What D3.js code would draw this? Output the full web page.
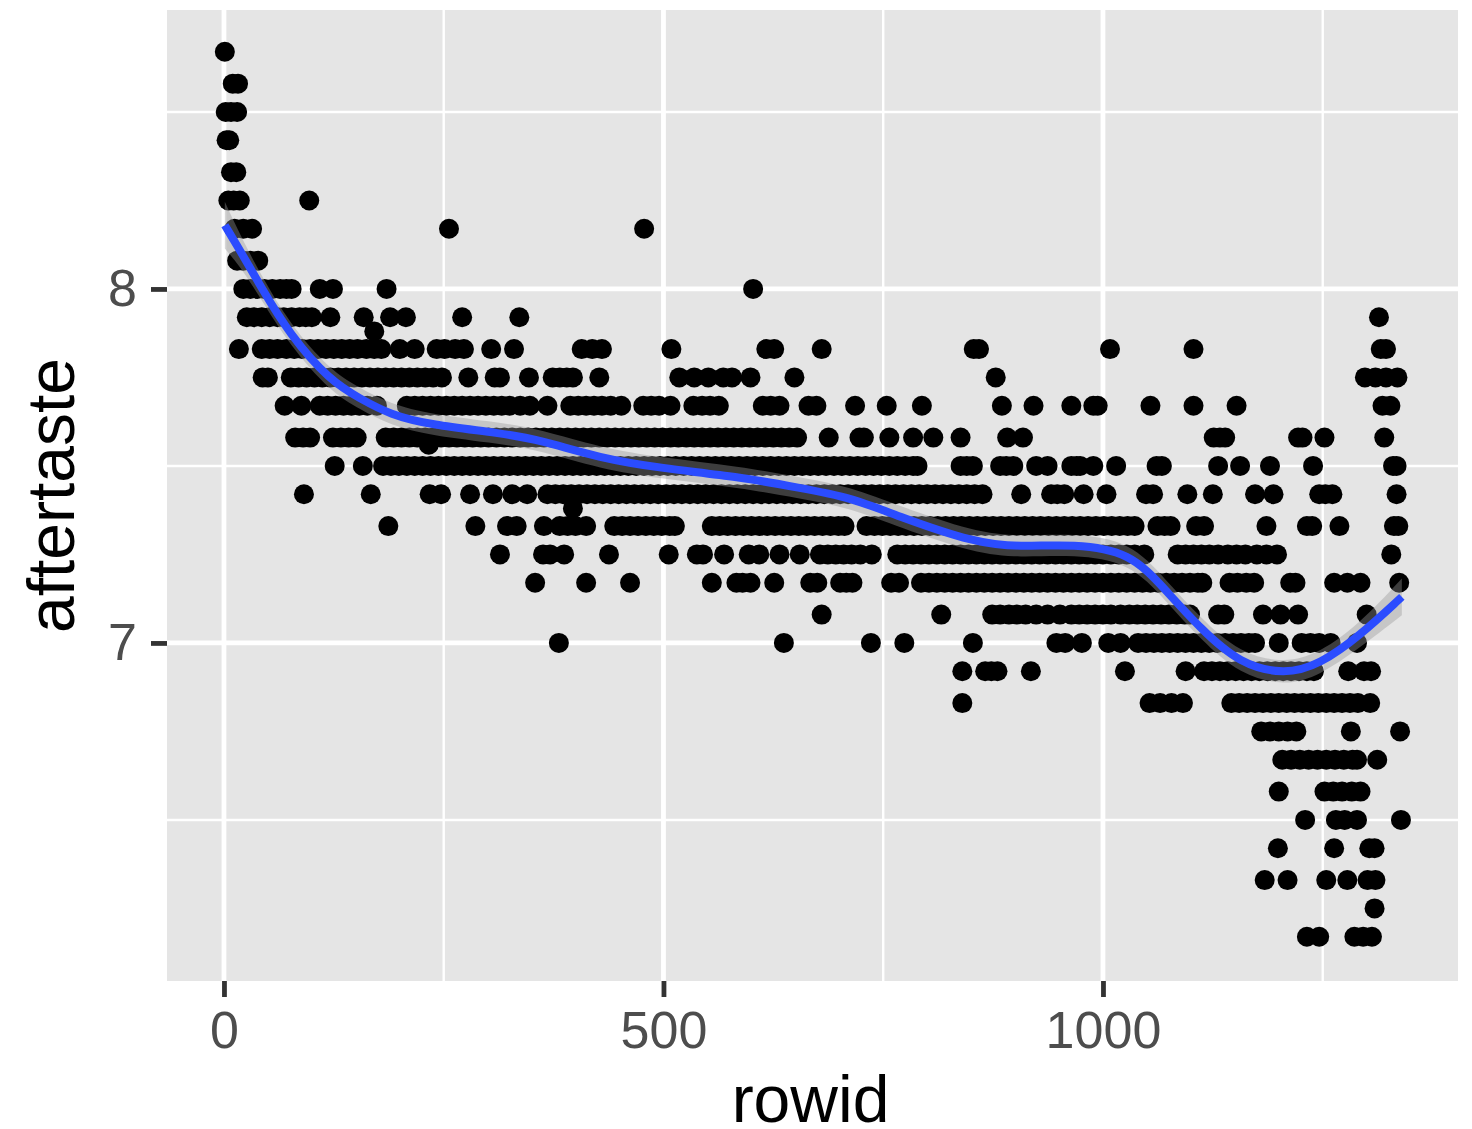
<!DOCTYPE html>
<html>
<head>
<meta charset="utf-8">
<script src="https://cdn.jsdelivr.net/npm/d3@7"></script>
<style>
    body { margin: 0; background: #fff; }
    text { font-family: "Liberation Sans", Arial, sans-serif; }
</style>
</head>
<body>
<script>
// aftertaste levels and the rowids of the points sitting on each one
const levels = [8.67, 8.58, 8.5, 8.42, 8.33, 8.25, 8.17, 8.08, 8, 7.92, 7.88, 7.83, 7.75, 7.67, 7.58, 7.56, 7.5, 7.42, 7.38, 7.33, 7.25, 7.17, 7.08, 7, 6.92, 6.83, 6.75, 6.67, 6.58, 6.5, 6.42, 6.33, 6.25, 6.17];
const rowids = [
    [1],
    [10, 16],
    [2, 8, 15],
    [3, 6],
    [8, 14],
    [5, 11, 18, 97],
    [12, 22, 32, 256, 478],
    [15, 22, 30, 39],
    [22, 30, 38, 46, 55, 64, 71, 77, 109, 124, 185, 602],
    [26, 34, 43, 52, 61, 68, 77, 86, 93, 100, 121, 159, 189, 207, 271, 336, 1314],
    [171],
    [17, 43, 52, 61, 71, 80, 89, 98, 107, 116, 125, 134, 143, 152, 162, 171, 179, 200, 217, 242, 251, 263, 273, 304, 330, 407, 419, 430, 509, 617, 626, 680, 853, 859, 1008, 1103, 1316, 1322],
    [44, 50, 76, 85, 94, 103, 112, 121, 130, 139, 148, 157, 166, 175, 184, 193, 202, 211, 220, 229, 238, 248, 278, 308, 314, 347, 374, 382, 390, 397, 427, 518, 535, 551, 568, 578, 599, 649, 878, 1298, 1310, 1322, 1335],
    [69, 88, 109, 118, 127, 136, 145, 154, 163, 174, 208, 217, 226, 235, 244, 253, 262, 271, 280, 289, 298, 307, 316, 325, 337, 348, 368, 394, 403, 412, 421, 430, 440, 452, 477, 486, 495, 508, 534, 544, 553, 563, 613, 622, 632, 665, 674, 718, 754, 794, 885, 921, 964, 989, 994, 1054, 1103, 1152, 1318, 1327],
    [81, 90, 98, 124, 133, 142, 151, 184, 193, 202, 211, 220, 229, 238, 247, 256, 265, 274, 283, 292, 301, 310, 319, 328, 337, 346, 355, 364, 373, 382, 391, 400, 409, 418, 427, 436, 445, 454, 463, 472, 481, 490, 499, 508, 517, 526, 535, 544, 553, 562, 571, 580, 589, 598, 607, 616, 625, 634, 643, 652, 688, 723, 728, 757, 784, 807, 838, 891, 909, 1126, 1133, 1139, 1222, 1227, 1252, 1320],
    [233],
    [126, 158, 181, 190, 199, 208, 217, 226, 235, 244, 253, 262, 271, 280, 289, 298, 307, 316, 325, 334, 343, 352, 361, 370, 379, 388, 397, 406, 415, 424, 433, 442, 451, 460, 469, 478, 487, 496, 505, 514, 523, 532, 541, 550, 559, 568, 577, 586, 595, 604, 613, 622, 631, 640, 649, 658, 667, 676, 685, 694, 703, 712, 721, 730, 739, 748, 757, 766, 775, 784, 789, 838, 845, 852, 883, 890, 898, 924, 937, 964, 970, 974, 989, 1015, 1061, 1067, 1131, 1156, 1190, 1239, 1330, 1334],
    [91, 167, 234, 247, 280, 306, 328, 345, 368, 377, 386, 395, 404, 413, 422, 431, 440, 449, 458, 467, 476, 485, 494, 503, 512, 521, 530, 539, 548, 557, 566, 575, 584, 593, 602, 611, 620, 629, 638, 647, 656, 665, 674, 683, 692, 701, 710, 719, 728, 737, 746, 755, 764, 773, 782, 791, 800, 809, 818, 827, 836, 845, 854, 863, 907, 941, 948, 956, 978, 1004, 1049, 1057, 1096, 1125, 1173, 1194, 1246, 1253, 1261, 1334],
    [397],
    [187, 286, 322, 333, 364, 382, 391, 400, 412, 444, 453, 462, 471, 480, 489, 498, 507, 513, 555, 564, 573, 582, 591, 600, 609, 618, 627, 636, 645, 654, 663, 672, 681, 690, 699, 706, 731, 740, 749, 758, 767, 776, 785, 794, 803, 812, 821, 830, 839, 848, 857, 866, 875, 884, 893, 902, 911, 920, 929, 938, 947, 956, 965, 974, 983, 992, 1001, 1010, 1019, 1028, 1036, 1062, 1070, 1077, 1106, 1115, 1186, 1232, 1238, 1269, 1331, 1336],
    [314, 363, 371, 387, 438, 506, 538, 545, 569, 597, 609, 632, 655, 678, 687, 696, 705, 714, 724, 737, 766, 775, 784, 793, 802, 811, 820, 829, 838, 847, 856, 865, 874, 883, 892, 901, 910, 919, 928, 937, 946, 955, 964, 973, 982, 991, 1000, 1009, 1018, 1027, 1036, 1047, 1085, 1094, 1103, 1112, 1121, 1131, 1142, 1152, 1162, 1175, 1186, 1198, 1328],
    [354, 412, 462, 555, 583, 590, 599, 626, 667, 675, 701, 708, 715, 759, 768, 793, 802, 811, 820, 829, 838, 847, 856, 865, 874, 883, 892, 901, 910, 919, 928, 937, 946, 955, 964, 973, 982, 991, 1000, 1009, 1018, 1027, 1036, 1045, 1054, 1063, 1072, 1081, 1090, 1099, 1108, 1113, 1144, 1153, 1163, 1172, 1213, 1219, 1263, 1278, 1293, 1337],
    [680, 816, 874, 883, 893, 902, 912, 924, 937, 951, 964, 973, 982, 991, 1000, 1009, 1020, 1030, 1039, 1048, 1057, 1066, 1075, 1084, 1093, 1099, 1131, 1138, 1182, 1202, 1222, 1300],
    [381, 637, 736, 774, 852, 947, 957, 976, 1006, 1020, 1040, 1049, 1058, 1067, 1076, 1085, 1094, 1103, 1112, 1121, 1130, 1139, 1148, 1157, 1166, 1173, 1200, 1226, 1236, 1246, 1259, 1289],
    [840, 866, 873, 880, 918, 1025, 1094, 1115, 1124, 1133, 1142, 1151, 1160, 1169, 1178, 1187, 1196, 1205, 1214, 1223, 1232, 1240, 1279, 1297, 1305],
    [840, 1053, 1065, 1078, 1091, 1146, 1155, 1164, 1173, 1182, 1191, 1200, 1209, 1218, 1227, 1236, 1245, 1254, 1263, 1272, 1281, 1290, 1304],
    [1180, 1190, 1200, 1210, 1220, 1282, 1338],
    [1204, 1214, 1224, 1234, 1244, 1254, 1264, 1274, 1284, 1289, 1312],
    [1200, 1252, 1262, 1272, 1283, 1293],
    [1230, 1265, 1275, 1289, 1339],
    [1199, 1263, 1303, 1309],
    [1184, 1210, 1254, 1278, 1301, 1310],
    [1309],
    [1232, 1246, 1286, 1296, 1306]
];

// loess curve, with the half width of its grey band
const smoothRowid = [1, 18, 41, 75, 121, 155, 189, 235, 315, 360, 428, 496, 587, 655, 712, 769, 854, 905, 967, 1031, 1071, 1111, 1156, 1207, 1247, 1292, 1340];
const smoothValue = [8.18, 8.11, 8.01, 7.87, 7.74, 7.69, 7.645, 7.616, 7.593, 7.573, 7.522, 7.494, 7.469, 7.438, 7.412, 7.356, 7.283, 7.271, 7.28, 7.257, 7.15, 7.04, 6.94, 6.91, 6.94, 7.02, 7.13];
const smoothBand = [0.066, 0.045, 0.034, 0.03, 0.03, 0.03, 0.03, 0.03, 0.03, 0.03, 0.03, 0.03, 0.03, 0.03, 0.03, 0.03, 0.03, 0.03, 0.03, 0.03, 0.03, 0.03, 0.03, 0.032, 0.032, 0.034, 0.052];

const xTicks = [0, 500, 1000];
const xMinor = [250, 750, 1250];
const yTicks = [7, 8];
const yMinor = [6.5, 7.5, 8.5];

const width = 1472, height = 1129;
const panel = { left: 167, right: 1458, top: 10, bottom: 981 };

const x = d3.scaleLinear().domain([-64.8, 1403.9]).range([panel.left, panel.right]);
const y = d3.scaleLinear().domain([6.045, 8.788]).range([panel.bottom, panel.top]);

const svg = d3.select("body").append("svg")
    .attr("width", width)
    .attr("height", height)
    .style("display", "block")
    .style("filter", "blur(0.5px)");

svg.append("rect")
    .attr("x", panel.left)
    .attr("y", panel.top)
    .attr("width", panel.right - panel.left)
    .attr("height", panel.bottom - panel.top)
    .attr("fill", "#e5e5e5");

// grid, minor lines first
const grid = svg.append("g").attr("stroke", "#fff");
grid.selectAll(".minorX").data(xMinor).enter().append("line")
    .attr("x1", d => x(d)).attr("x2", d => x(d))
    .attr("y1", panel.top).attr("y2", panel.bottom)
    .attr("stroke-width", 2.4);
grid.selectAll(".minorY").data(yMinor).enter().append("line")
    .attr("y1", d => y(d)).attr("y2", d => y(d))
    .attr("x1", panel.left).attr("x2", panel.right)
    .attr("stroke-width", 2.4);
grid.selectAll(".majorX").data(xTicks).enter().append("line")
    .attr("x1", d => x(d)).attr("x2", d => x(d))
    .attr("y1", panel.top).attr("y2", panel.bottom)
    .attr("stroke-width", 4.8);
grid.selectAll(".majorY").data(yTicks).enter().append("line")
    .attr("y1", d => y(d)).attr("y2", d => y(d))
    .attr("x1", panel.left).attr("x2", panel.right)
    .attr("stroke-width", 4.8);

// points
const points = levels.flatMap((level, i) => rowids[i].map(r => ({ r: r, level: level })));
svg.append("g").selectAll("circle").data(points).enter().append("circle")
    .attr("cx", d => x(d.r))
    .attr("cy", d => y(d.level))
    .attr("r", 10)
    .attr("fill", "#000");

// smooth, band then line
const smooth = smoothRowid.map((r, i) => ({ r: r, v: smoothValue[i], b: smoothBand[i] }));
svg.append("path")
    .datum(smooth)
    .attr("fill", "#999")
    .attr("fill-opacity", 0.4)
    .attr("d", d3.area()
        .x(d => x(d.r))
        .y0(d => y(d.v - d.b))
        .y1(d => y(d.v + d.b))
        .curve(d3.curveBasis));
svg.append("path")
    .datum(smooth)
    .attr("fill", "none")
    .attr("stroke", "#2b4cff")
    .attr("stroke-width", 8)
    .attr("d", d3.line()
        .x(d => x(d.r))
        .y(d => y(d.v))
        .curve(d3.curveBasis));

// axes
const xAxis = svg.append("g")
    .attr("transform", `translate(0,${panel.bottom})`)
    .call(d3.axisBottom(x).tickValues(xTicks).tickSize(16).tickPadding(14).tickFormat(d3.format("d")));
const yAxis = svg.append("g")
    .attr("transform", `translate(${panel.left},0)`)
    .call(d3.axisLeft(y).tickValues(yTicks).tickSize(16).tickPadding(14).tickFormat(d3.format("d")));
[xAxis, yAxis].forEach(a => {
    a.select(".domain").remove();
    a.selectAll("line").attr("stroke", "#333").attr("stroke-width", 4.8);
    a.selectAll("text")
        .attr("fill", "#4d4d4d")
        .style("font-size", "52px");
});

svg.append("text")
    .attr("x", 810.5)
    .attr("y", 1122)
    .attr("text-anchor", "middle")
    .style("font-size", "66px")
    .text("rowid");

svg.append("text")
    .attr("transform", `translate(74,${(panel.top + panel.bottom) / 2}) rotate(-90)`)
    .attr("text-anchor", "middle")
    .style("font-size", "66px")
    .text("aftertaste");
</script>
</body>
</html>
